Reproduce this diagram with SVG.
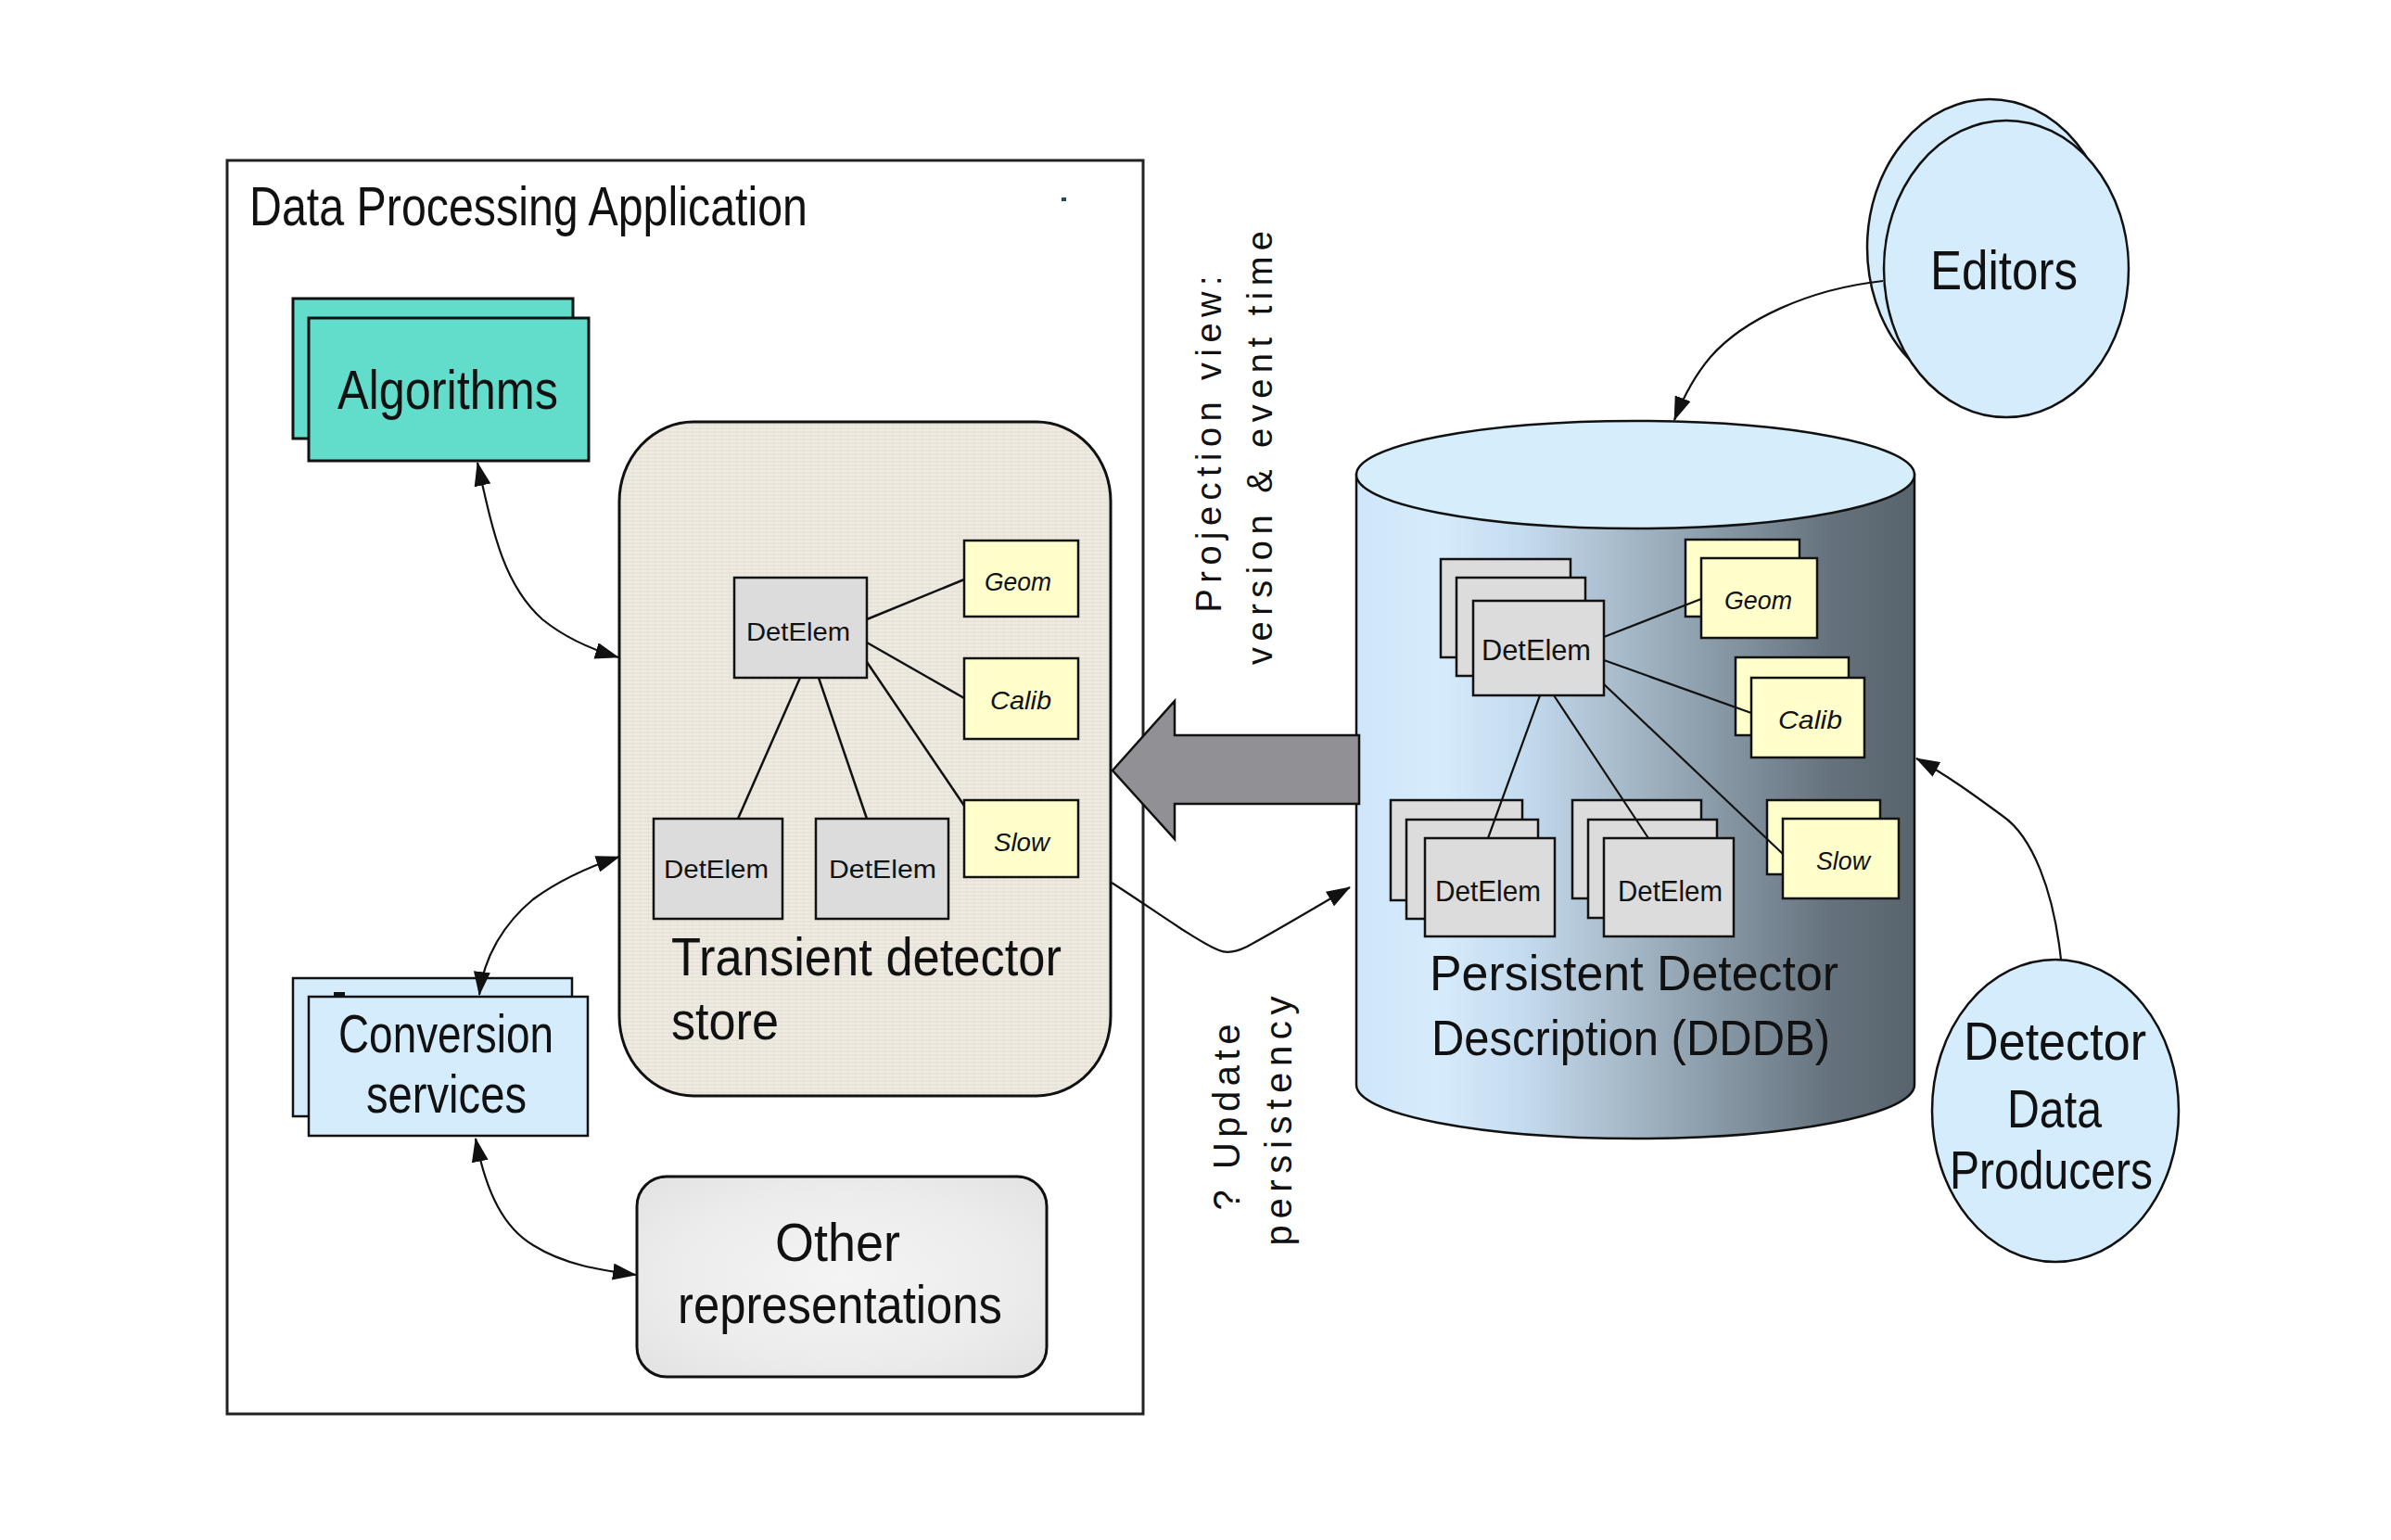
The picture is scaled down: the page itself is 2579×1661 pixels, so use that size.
<svg xmlns="http://www.w3.org/2000/svg" width="2579" height="1661" viewBox="0 0 2579 1661">
<style>
text{font-family:"Liberation Sans",Arial,sans-serif;fill:#111;}
.big{font-size:58px;}
.small{font-size:28px;}
.tag{font-size:28px;font-style:italic;}
.vert{font-size:38px;}
.box{stroke:#111;stroke-width:3;}
.det{fill:#DCDCDC;stroke:#111;stroke-width:2.5;}
.yel{fill:#FFFFCC;stroke:#111;stroke-width:2.5;}
.ln{fill:none;stroke:#111;stroke-width:2.5;}
.con{fill:none;stroke:#111;stroke-width:2.2;}
.blue{fill:#D5ECFC;stroke:#111;stroke-width:2.5;}
</style>
<defs>
<marker id="ah" viewBox="0 0 26 18" refX="25" refY="9" markerWidth="26" markerHeight="18" markerUnits="userSpaceOnUse" orient="auto-start-reverse">
<path d="M0,0 L26,9 L0,18 z" fill="#111"/>
</marker>
<pattern id="linen" width="8" height="8" patternUnits="userSpaceOnUse">
<rect width="8" height="8" fill="#EFEBE3"/>
<path d="M0 2H8M0 6H8" stroke="#E3DDD0" stroke-width="1"/>
<path d="M3 0V8" stroke="#E7E2D8" stroke-width="1"/>
</pattern>
<radialGradient id="marble" cx="0.5" cy="0.5" r="0.7">
<stop offset="0" stop-color="#F4F4F4"/>
<stop offset="0.6" stop-color="#ECECEC"/>
<stop offset="1" stop-color="#E2E2E2"/>
</radialGradient>
<linearGradient id="cyl" x1="0" y1="0" x2="1" y2="0">
<stop offset="0" stop-color="#CFE6FA"/>
<stop offset="0.15" stop-color="#D6ECFC"/>
<stop offset="0.3" stop-color="#C4DAEE"/>
<stop offset="0.5" stop-color="#A3B6C5"/>
<stop offset="0.7" stop-color="#7F8F9C"/>
<stop offset="0.85" stop-color="#65727D"/>
<stop offset="1" stop-color="#58636C"/>
</linearGradient>
</defs>
<rect width="2579" height="1661" fill="#FFFFFF"/>

<g id="app">
<rect x="245" y="173" width="988" height="1352" fill="#FFFFFF" stroke="#222" stroke-width="3"/>
<text x="269" y="243" font-size="60" textLength="602" lengthAdjust="spacingAndGlyphs">Data Processing Application</text>
<rect x="1145" y="213" width="5" height="4" fill="#1A4A6A"/>
</g>

<g id="algorithms">
<rect class="box" x="316" y="322" width="302" height="151" fill="#62DCCB"/>
<rect class="box" x="333" y="343" width="302" height="154" fill="#62DCCB"/>
<text x="364" y="441" font-size="60" textLength="238" lengthAdjust="spacingAndGlyphs">Algorithms</text>
</g>

<g id="transient-store">
<rect x="668" y="455" width="530" height="727" rx="80" ry="86" fill="url(#linen)" stroke="#111" stroke-width="3"/>
<text class="big" x="724" y="1052" textLength="421" lengthAdjust="spacingAndGlyphs">Transient detector</text>
<text class="big" x="724" y="1121" textLength="116" lengthAdjust="spacingAndGlyphs">store</text>
</g>

<g id="t-detelem-top">
<rect class="det" x="792" y="623" width="143" height="108"/>
<text class="small" x="805" y="691" textLength="112" lengthAdjust="spacingAndGlyphs">DetElem</text>
</g>
<g id="t-geom">
<rect class="yel" x="1040" y="583" width="123" height="82"/>
<text class="tag" x="1062" y="637" textLength="72" lengthAdjust="spacingAndGlyphs">Geom</text>
</g>
<g id="t-calib">
<rect class="yel" x="1040" y="710" width="123" height="87"/>
<text class="tag" x="1068" y="765" textLength="66" lengthAdjust="spacingAndGlyphs">Calib</text>
</g>
<g id="t-slow">
<rect class="yel" x="1040" y="863" width="123" height="83"/>
<text class="tag" x="1072" y="918" textLength="60" lengthAdjust="spacingAndGlyphs">Slow</text>
</g>
<g id="t-detelem-1">
<rect class="det" x="705" y="883" width="139" height="108"/>
<text class="small" x="716" y="947" textLength="113" lengthAdjust="spacingAndGlyphs">DetElem</text>
</g>
<g id="t-detelem-2">
<rect class="det" x="880" y="883" width="143" height="108"/>
<text class="small" x="894" y="947" textLength="116" lengthAdjust="spacingAndGlyphs">DetElem</text>
</g>

<g id="conversion">
<rect class="blue" x="316" y="1055" width="301" height="149" stroke-width="3"/>
<rect class="blue" x="333" y="1075" width="301" height="150" stroke-width="3"/>
<rect x="360" y="1070" width="12" height="6" fill="#111"/>
<text class="big" x="365" y="1135" textLength="232" lengthAdjust="spacingAndGlyphs">Conversion</text>
<text class="big" x="395" y="1200" textLength="173" lengthAdjust="spacingAndGlyphs">services</text>
</g>

<g id="other">
<rect x="687" y="1269" width="442" height="216" rx="32" ry="32" fill="url(#marble)" stroke="#111" stroke-width="3"/>
<text class="big" x="836" y="1360" textLength="135" lengthAdjust="spacingAndGlyphs">Other</text>
<text class="big" x="731" y="1427" textLength="350" lengthAdjust="spacingAndGlyphs">representations</text>
</g>

<g id="dddb">
<path d="M1463,512 L1463,1170 A301,58 0 0 0 2065,1170 L2065,512 Z" fill="url(#cyl)" stroke="#111" stroke-width="2.5"/>
<ellipse cx="1764" cy="512" rx="301" ry="58" fill="#D6EDFC" stroke="#111" stroke-width="2.5"/>
<text x="1542" y="1068" font-size="53" textLength="441" lengthAdjust="spacingAndGlyphs">Persistent Detector</text>
<text x="1544" y="1138" font-size="53" textLength="430" lengthAdjust="spacingAndGlyphs">Description (DDDB)</text>
</g>

<g id="p-detelem-top">
<rect class="det" x="1554" y="603" width="140" height="106"/>
<rect class="det" x="1571" y="623" width="139" height="106"/>
<rect class="det" x="1589" y="648" width="141" height="102"/>
<text x="1598" y="712" font-size="32" textLength="118" lengthAdjust="spacingAndGlyphs">DetElem</text>
</g>
<g id="p-geom">
<rect class="yel" x="1818" y="582" width="123" height="83"/>
<rect class="yel" x="1835" y="602" width="125" height="86"/>
<text class="tag" x="1860" y="657" textLength="73" lengthAdjust="spacingAndGlyphs">Geom</text>
</g>
<g id="p-calib">
<rect class="yel" x="1872" y="709" width="122" height="84"/>
<rect class="yel" x="1889" y="731" width="122" height="86"/>
<text class="tag" x="1918" y="786" textLength="69" lengthAdjust="spacingAndGlyphs">Calib</text>
</g>
<g id="p-slow">
<rect class="yel" x="1906" y="863" width="122" height="80"/>
<rect class="yel" x="1923" y="883" width="125" height="86"/>
<text class="tag" x="1959" y="938" textLength="58" lengthAdjust="spacingAndGlyphs">Slow</text>
</g>
<g id="p-detelem-1">
<rect class="det" x="1500" y="863" width="142" height="108"/>
<rect class="det" x="1517" y="884" width="142" height="107"/>
<rect class="det" x="1537" y="904" width="140" height="106"/>
<text x="1548" y="972" font-size="32" textLength="114" lengthAdjust="spacingAndGlyphs">DetElem</text>
</g>
<g id="p-detelem-2">
<rect class="det" x="1696" y="863" width="139" height="106"/>
<rect class="det" x="1713" y="884" width="139" height="106"/>
<rect class="det" x="1730" y="904" width="140" height="106"/>
<text x="1745" y="972" font-size="32" textLength="113" lengthAdjust="spacingAndGlyphs">DetElem</text>
</g>

<g id="editors">
<ellipse cx="2146" cy="267" rx="132" ry="160" class="blue"/>
<ellipse cx="2164" cy="290" rx="132" ry="160" class="blue"/>
<text x="2082" y="312" font-size="60" textLength="159" lengthAdjust="spacingAndGlyphs">Editors</text>
</g>

<g id="producers">
<ellipse cx="2217" cy="1198" rx="133" ry="163" class="blue"/>
<text x="2118" y="1143" font-size="57" textLength="197" lengthAdjust="spacingAndGlyphs">Detector</text>
<text x="2165" y="1216" font-size="57" textLength="102" lengthAdjust="spacingAndGlyphs">Data</text>
<text x="2103" y="1282" font-size="57" textLength="219" lengthAdjust="spacingAndGlyphs">Producers</text>
</g>

<g id="labels">
<text class="vert" transform="translate(1317,479) rotate(-90)" text-anchor="middle" textLength="363" lengthAdjust="spacing">Projection view:</text>
<text class="vert" transform="translate(1372,483) rotate(-90)" text-anchor="middle" textLength="468" lengthAdjust="spacing">version &amp; event time</text>
<text transform="translate(1337,1205) rotate(-90)" text-anchor="middle" font-size="40" textLength="201" lengthAdjust="spacing">? Update</text>
<text transform="translate(1393,1209) rotate(-90)" text-anchor="middle" font-size="40" textLength="269" lengthAdjust="spacing">persistency</text>
</g>

<g id="connectors">
<line class="ln" x1="935" y1="668" x2="1040" y2="625"/>
<line class="ln" x1="935" y1="693" x2="1040" y2="753"/>
<line class="ln" x1="935" y1="714" x2="1040" y2="869"/>
<line class="ln" x1="863" y1="731" x2="796" y2="883"/>
<line class="ln" x1="883" y1="731" x2="935" y2="883"/>

<line class="con" x1="1730" y1="687" x2="1835" y2="646"/>
<line class="con" x1="1730" y1="712" x2="1889" y2="769"/>
<line class="con" x1="1730" y1="738" x2="1923" y2="921"/>
<line class="con" x1="1661" y1="750" x2="1605" y2="904"/>
<line class="con" x1="1676" y1="750" x2="1778" y2="904"/>

<path class="con" d="M515,499 C532,575 543,630 585,668 C612,690 640,701 667,709" marker-start="url(#ah)" marker-end="url(#ah)"/>
<path class="con" d="M517,1073 C522,1030 545,995 575,970 C605,948 635,935 668,924" marker-start="url(#ah)" marker-end="url(#ah)"/>
<path class="con" d="M513,1228 C525,1290 545,1325 575,1343 C610,1365 650,1370 686,1375" marker-start="url(#ah)" marker-end="url(#ah)"/>
<path class="con" d="M1199,952 C1240,978 1290,1015 1315,1025 Q1327,1030 1345,1021 C1380,1002 1420,978 1456,957" marker-end="url(#ah)"/>
<path class="con" d="M2031,303 C1950,312 1880,345 1845,385 C1828,405 1815,430 1806,453" marker-end="url(#ah)"/>
<path class="con" d="M2223,1035 C2215,960 2192,902 2160,880 C2130,858 2100,836 2067,818" marker-end="url(#ah)"/>

<path d="M1200,831 L1267,756 L1267,793 L1466,793 L1466,867 L1267,867 L1267,905 Z" fill="#919094" stroke="#111" stroke-width="2.5" stroke-linejoin="miter"/>
</g>
</svg>
